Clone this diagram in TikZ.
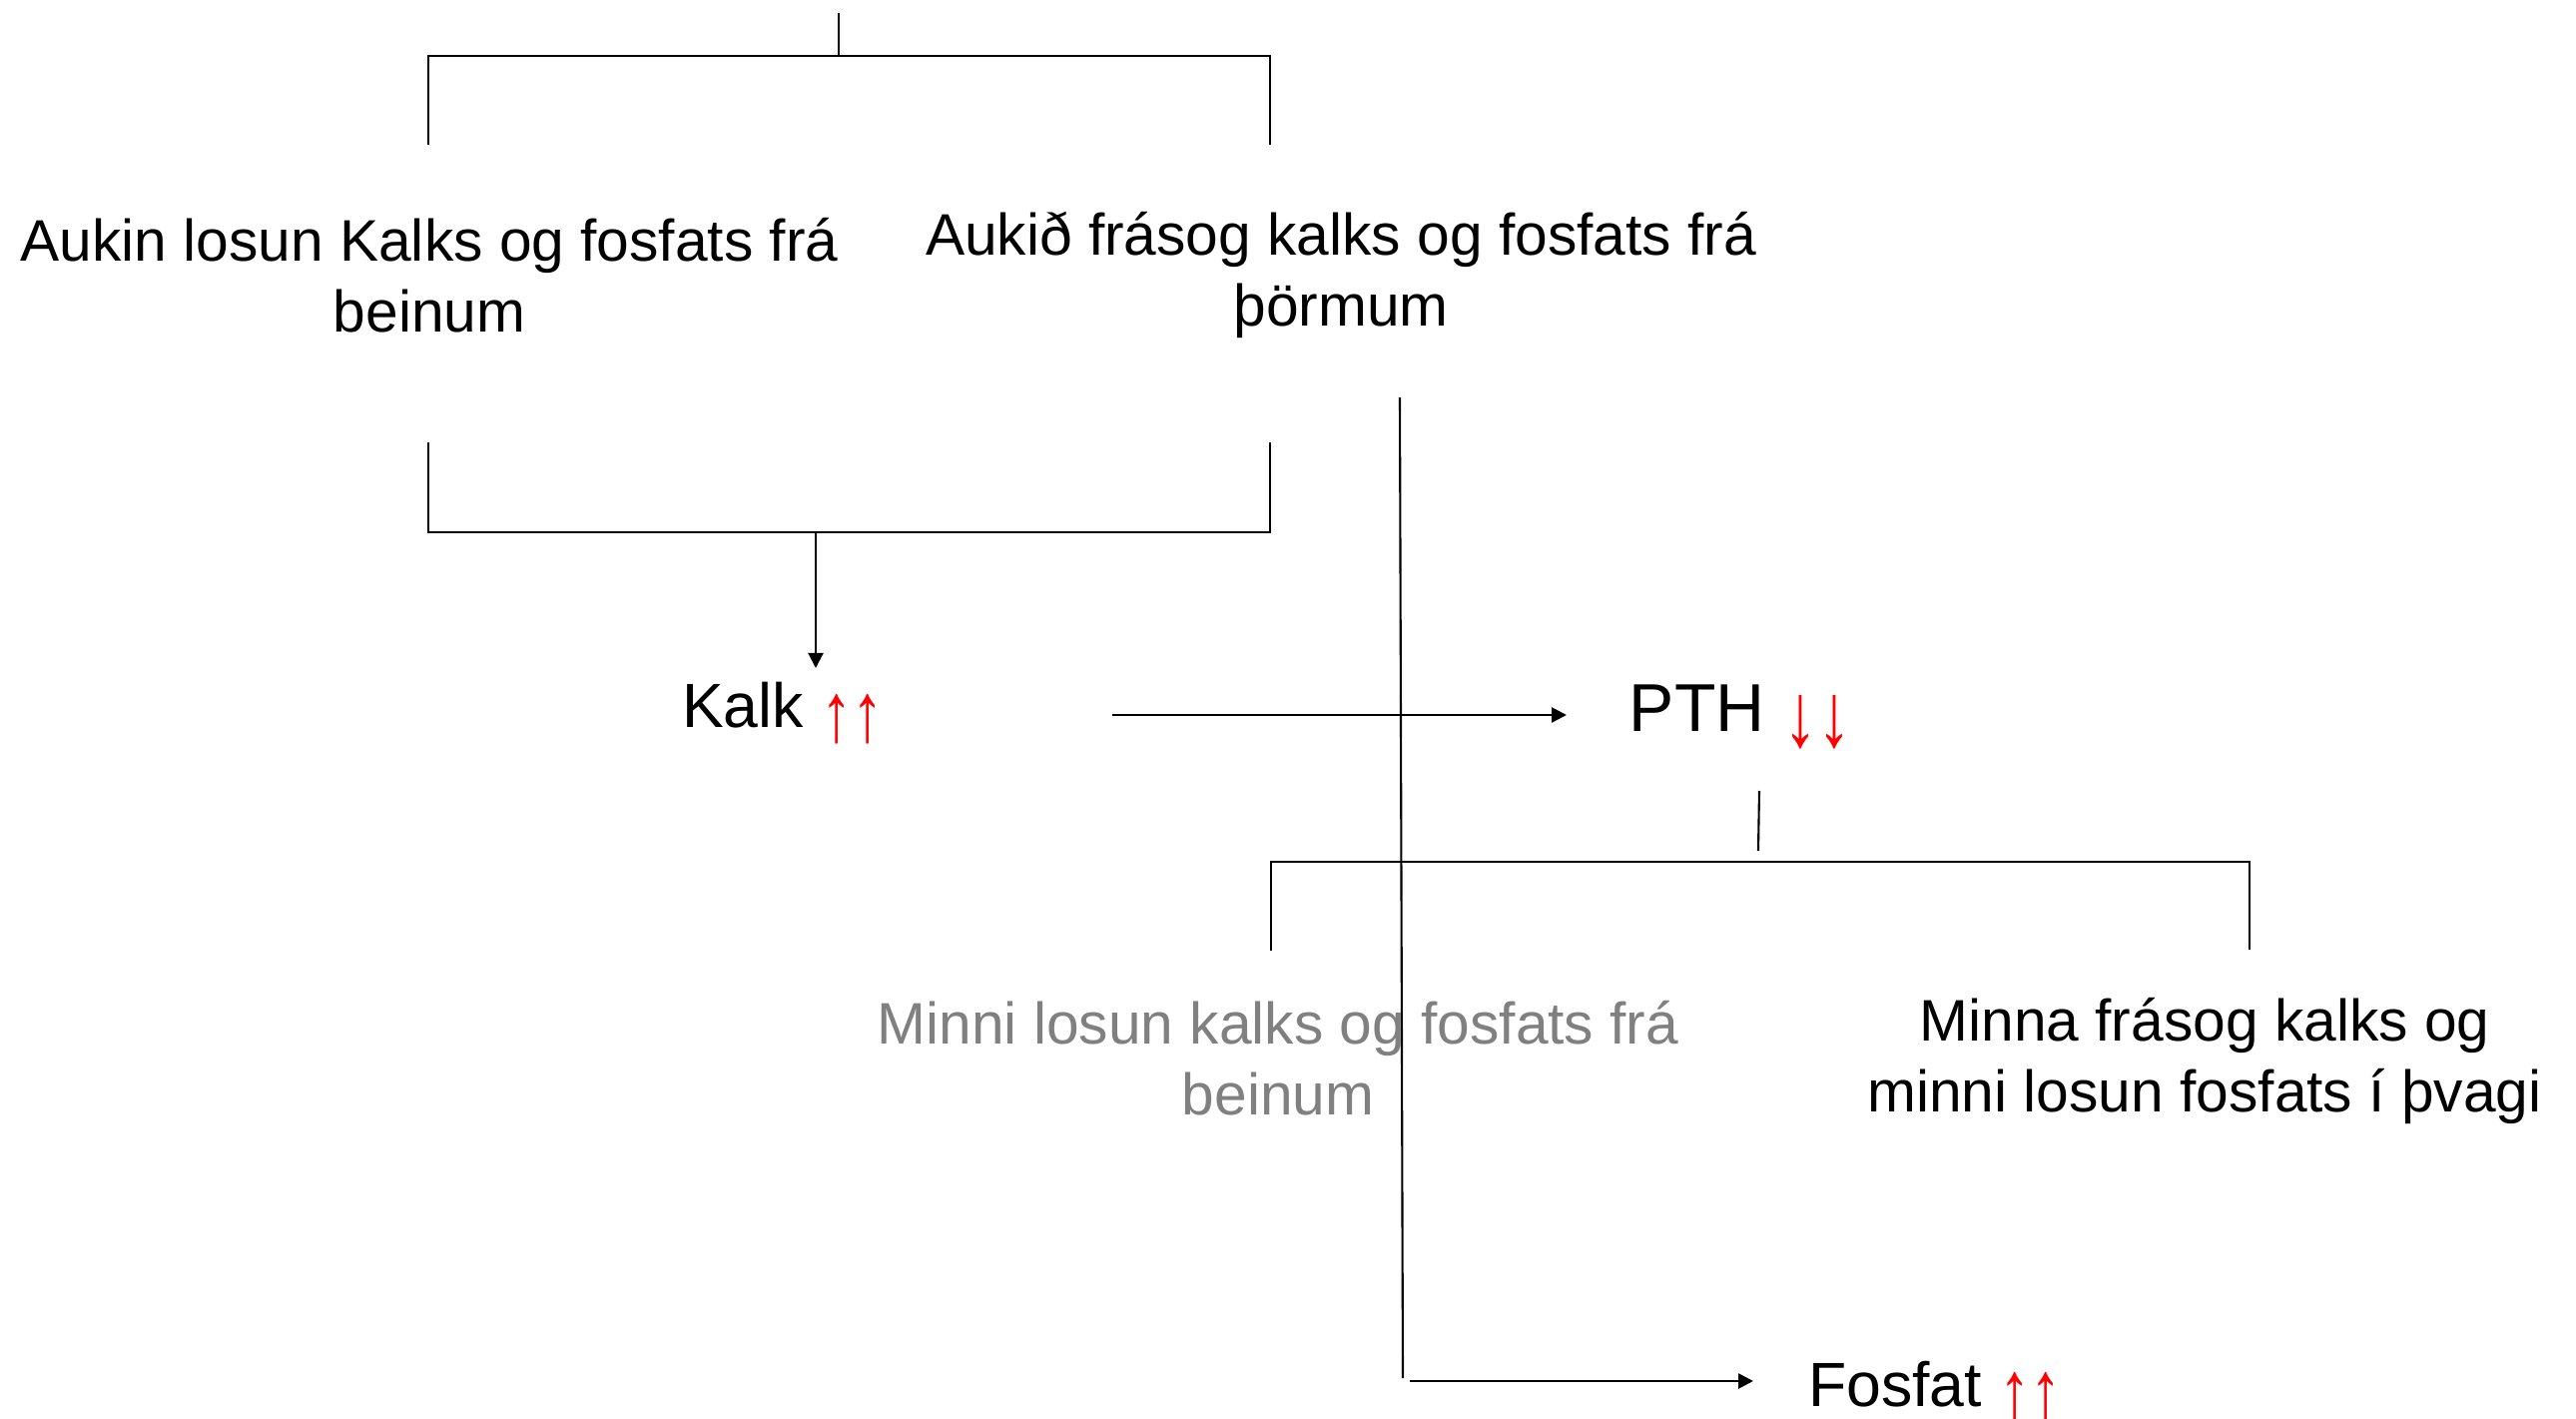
\documentclass[tikz,border=0pt]{standalone}
\usepackage{fontspec}
\setmainfont{Liberation Sans}
\usetikzlibrary{arrows.meta}
\newcommand\redarrows[1]{\textcolor{red}{\raisebox{-0.21em}{\scalebox{1}[1.34]{#1}}}}
\tikzset{
  txt/.style={font=\fontsize{16.7}{20.2}\selectfont,align=center,inner sep=0pt,anchor=base},
  big/.style={font=\fontsize{17.8}{21}\selectfont,inner sep=0pt,anchor=base},
  ln/.style={line width=0.6pt},
  arr/.style={line width=0.75pt,-{Triangle[length=0.15cm,width=0.15cm]}}
}
\begin{document}
\begin{tikzpicture}
\useasboundingbox (0,0) rectangle (25.8,-14.21);
\path
(4.30,-3.33) node[txt](aukin){Aukin losun Kalks og fosfats frá\\beinum}
(13.43,-3.27) node[txt](aukid){Aukið frásog kalks og fosfats frá\\þörmum}
(7.84,-7.29) node[big](kalk){Kalk \redarrows{↑↑}}
(17.43,-7.33) node[big,font=\fontsize{19.3}{22}\selectfont](pth){PTH \redarrows{↓↓}}
(12.80,-11.16) node[txt,text=gray](minni){Minni losun kalks og fosfats frá\\beinum}
(22.08,-11.13) node[txt](minna){Minna frásog kalks og\\minni losun fosfats í þvagi}
(19.38,-14.08) node[big](fosfat){Fosfat \redarrows{↑↑}};
\coordinate (top) at (8.40,-0.13);
\coordinate (topmid) at (8.40,-0.56);
\coordinate (tl) at (4.29,-0.56);
\coordinate (tr) at (12.72,-0.56);
\coordinate (tlb) at (4.29,-1.45);
\coordinate (trb) at (12.72,-1.45);
\coordinate (bl) at (4.29,-4.43);
\coordinate (br) at (12.72,-4.43);
\coordinate (blb) at (4.29,-5.33);
\coordinate (brb) at (12.72,-5.33);
\coordinate (bmid) at (8.17,-5.33);
\coordinate (kalkin) at (8.17,-6.69);
\coordinate (kout) at (11.14,-7.16);
\coordinate (pin) at (15.69,-7.16);
\coordinate (vtop) at (14.02,-3.98);
\coordinate (vbot) at (14.05,-13.80);
\coordinate (fin) at (14.12,-13.83);
\coordinate (fend) at (17.56,-13.83);
\coordinate (ps) at (17.62,-7.92);
\coordinate (pb) at (17.61,-8.52);
\coordinate (ml) at (12.73,-9.52);
\coordinate (mlt) at (12.73,-8.63);
\coordinate (mrt) at (22.53,-8.63);
\coordinate (mr) at (22.53,-9.51);
\path[draw,ln] (top)--(topmid);
\path[draw,ln] (tlb)--(tl)--(tr)--(trb);
\path[draw,ln] (bl)--(blb)--(brb)--(br);
\path[draw,arr,line width=0.6pt] (bmid)--(kalkin);
\path[draw,arr] (kout)--(pin);
\path[draw,ln] (vtop)--(vbot);
\path[draw,arr] (fin)--(fend);
\path[draw,ln] (ps)--(pb);
\path[draw,ln] (ml)--(mlt)--(mrt)--(mr);
\end{tikzpicture}
\end{document}
